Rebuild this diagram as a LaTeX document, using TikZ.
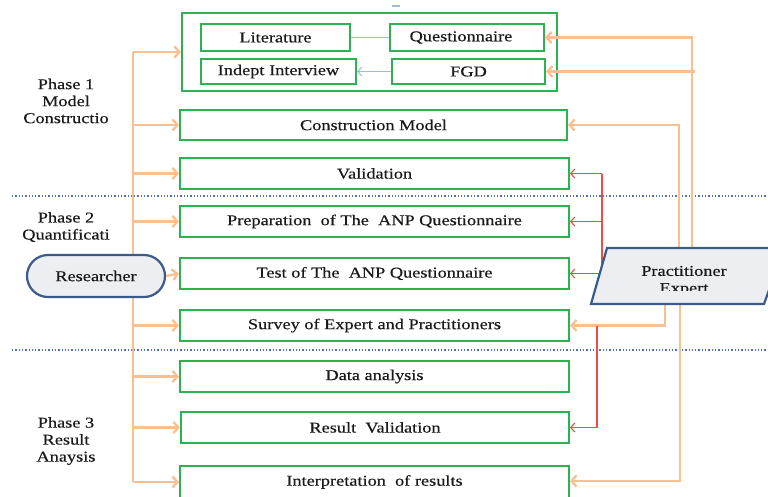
\documentclass[tikz,border=0pt]{standalone}
\usepackage{fontspec}
\setmainfont{Liberation Serif}[FakeStretch=1.22,FakeBold=0.4]
\usetikzlibrary{arrows.meta}
\definecolor{gbox}{HTML}{2EB24F}
\definecolor{orng}{HTML}{F8BF90}
\definecolor{rline}{HTML}{EE4B4B}
\definecolor{bline}{HTML}{9DBBE0}
\definecolor{dotc}{HTML}{4F72AA}
\definecolor{navy}{HTML}{3A5A8C}
\definecolor{shfill}{HTML}{ECEEF2}
\definecolor{txt}{HTML}{1A1A1A}
\newcommand{\bfs}{\fontsize{15}{17}\selectfont}
\begin{document}
\begin{tikzpicture}[x=1pt,y=-1pt,
  gb/.style={draw=gbox, line width=2pt, inner sep=0pt, font=\bfs, text=txt},
  ph/.style={align=center, font=\bfs, text=txt},
  oline/.style={draw=orng, line width=2.3pt},
  oarrow/.style={draw=orng, line width=2.3pt, -{Straight Barb[length=5pt,width=11pt]}},
  rarrow/.style={draw=rline, line width=1.1pt, -{Straight Barb[length=4pt,width=9pt]}},
  barrow/.style={draw=bline, line width=1.1pt, -{Straight Barb[length=4pt,width=9pt]}},
  dotl/.style={draw=dotc, line width=1.3pt, dotted}]
\useasboundingbox (0,0) rectangle (768,496);

% boxes
\node[gb, minimum width=375, minimum height=78] (outer) at (369.5,52) {};
\node[gb, minimum width=149, minimum height=27] (lit) at (275.5,37.5) {Literature};
\node[gb, minimum width=154, minimum height=27] (qst) at (467,37.5) {\hspace*{-12pt}Questionnaire};
\node[gb, minimum width=155, minimum height=25] (ind) at (278.5,71.5) {Indept Interview};
\node[gb, minimum width=153, minimum height=25] (fgd) at (468.5,71.5) {FGD};
\node[gb, minimum width=387, minimum height=30] (con) at (373.5,125) {Construction Model};
\node[gb, minimum width=389, minimum height=31] (val) at (374.5,173.5) {Validation};
\node[gb, minimum width=389, minimum height=31] (pre) at (374.5,221.5) {Preparation\ \ of The\ \ ANP Questionnaire};
\node[gb, minimum width=389, minimum height=31] (tst) at (374.5,273.5) {Test of The\ \ ANP Questionnaire};
\node[gb, minimum width=389, minimum height=31] (sur) at (374.5,325.5) {Survey of Expert and Practitioners};
\node[gb, minimum width=389, minimum height=31] (dat) at (374.5,376.5) {Data analysis};
\node[gb, minimum width=388, minimum height=31] (rsv) at (375,427.5) {Result\ \ Validation};
\node[gb, minimum width=389, minimum height=32] (int) at (374.5,482) {Interpretation\ \ of results};

% blue links inside
\draw[draw=bline, line width=1.1pt] (lit.east) -- (qst.west);
\draw[barrow] (fgd.west) -- (ind.east);
\draw[draw=bline, line width=1.1pt] (392,6) -- (400,6);

% dotted separators
\coordinate (d1a) at (12,196); \coordinate (d1b) at (768,196);
\coordinate (d2a) at (12,350); \coordinate (d2b) at (768,350);
\draw[dotl] (d1a) -- (d1b);
\draw[dotl] (d2a) -- (d2b);

% phase labels
\node[ph] (p1) at (66,101) {Phase 1\\Model\\Constructio};
\node[ph] (p2) at (66,227) {Phase 2\\Quantificati};
\node[ph] (p3) at (66,441) {Phase 3\\Result\\Anaysis};

% researcher spine
\coordinate (spine) at (133,52);
\draw[oline] (spine) -- (spine |- int.west);
\draw[oarrow] (spine) -- (outer.west);
\foreach \b in {con,val,pre,sur,dat,rsv,int}
  \draw[oarrow] (spine |- \b.west) -- (\b.west);
\node[draw=navy, line width=2.2pt, fill=shfill, rounded corners=21pt, minimum width=138, minimum height=42, font=\bfs, text=txt] (rsch) at (96,276) {Researcher};
\draw[oarrow] (rsch.east) -- (tst.west);

% practitioner / expert
\node[minimum width=160, minimum height=56, inner sep=0pt] (pe) at (687.5,276) {};
\coordinate (fgdin) at (695,71.5);
\draw[oarrow] ([xshift=4.5pt]pe.north) |- (qst.east);
\draw[oarrow] (fgdin) -- (fgd.east);
\draw[oarrow] ([xshift=-8.5pt]pe.north) |- (con.east);
\draw[oarrow] ([xshift=-22.5pt]pe.south) |- (sur.east);
\draw[oarrow] ([xshift=-7.5pt]pe.south) |- ([yshift=1pt]int.east);

% red links
\coordinate (rv) at (602,0);
\coordinate (rv2) at (597,0);
\draw[draw=rline, line width=1.1pt] (rv |- val.east) -- (rv |- tst.east);
\draw[rarrow] (rv |- val.east) -- (val.east);
\draw[rarrow] (rv |- pre.east) -- (pre.east);
\draw[rarrow] (rv |- tst.east) -- (tst.east);
\draw[rarrow] (rv2 |- sur.east) |- (rsv.east);

\draw[draw=navy, line width=2.2pt, fill=shfill] (607,248) -- (784,248) -- (764,304) -- (591,304) -- cycle;
\begin{scope}
  \clip (580,240) rectangle (780,290.5);
  \node[align=center, font=\bfs, text=txt] (pet) at (684,281) {Practitioner\\Expert};
\end{scope}
\end{tikzpicture}
\end{document}
